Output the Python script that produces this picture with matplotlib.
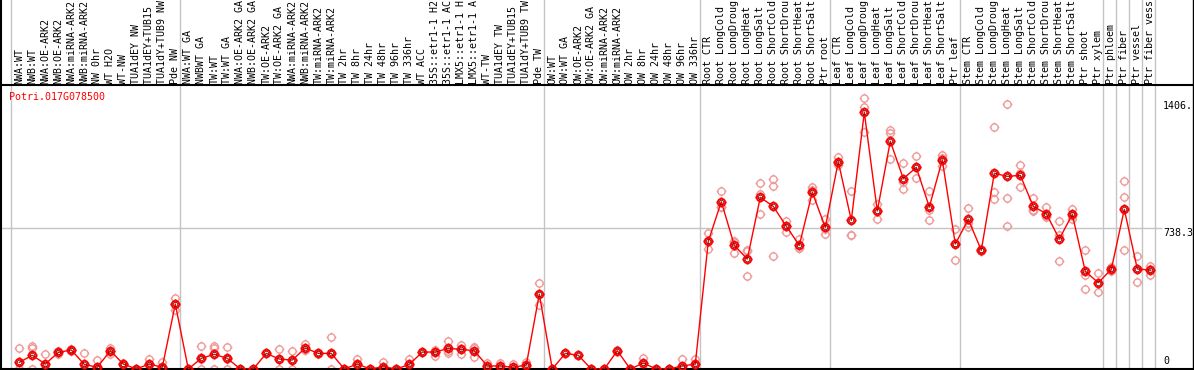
import matplotlib
matplotlib.use('Agg')
import matplotlib.pyplot as plt
from matplotlib.path import Path
from matplotlib.lines import Line2D
import numpy as np

gene = 'Potri.017G078500'

samples = [
    'NWA:WT', 'NWB:WT', 'NWA:OE-ARK2', 'NWB:OE-ARK2', 'NWA:miRNA-ARK2', 'NWB:miRNA-ARK2',
    'NW 0hr', 'WT H2O', 'WT-NW', 'TUA1dEY NW', 'TUA1dEY+TUB15 ', 'TUA1dY+TUB9 NW', 'Pde NW',
    'NWA:WT GA', 'NWBWT GA', 'TW:WT', 'TW:WT GA', 'NWA:OE-ARK2 GA', 'NWB:OE-ARK2 GA',
    'TW:OE-ARK2', 'TW:OE-ARK2 GA', 'NWA:miRNA-ARK2', 'NWB:miRNA-ARK2', 'TW:miRNA-ARK2',
    'TW:miRNA-ARK2', 'TW 2hr', 'TW 8hr', 'TW 24hr', 'TW 48hr', 'TW 96hr', 'TW 336hr',
    'WT ACC', '35S::etr1-1 H2', '35S::etr1-1 AC', 'LMX5::etr1-1 H', 'LMX5::etr1-1 A',
    'WT-TW', 'TUA1dEY TW', 'TUA1dEY+TUB15 ', 'TUA1dY+TUB9 TW', 'Pde TW',
    'OW:WT', 'OW:WT GA', 'OW:OE-ARK2', 'OW:OE-ARK2 GA', 'OW:miRNA-ARK2', 'OW:miRNA-ARK2',
    'OW 2hr', 'OW 8hr', 'OW 24hr', 'OW 48hr', 'OW 96hr', 'OW 336hr',
    'Root CTR', 'Root LongCold', 'Root LongDroug', 'Root LongHeat', 'Root LongSalt',
    'Root ShortCold', 'Root ShortDrou', 'Root ShortHeat', 'Root ShortSalt', 'Ptr root',
    'Leaf CTR', 'Leaf LongCold', 'Leaf LongDroug', 'Leaf LongHeat', 'Leaf LongSalt',
    'Leaf ShortCold', 'Leaf ShortDrou', 'Leaf ShortHeat', 'Leaf ShortSalt', 'Ptr leaf',
    'Stem CTR', 'Stem LongCold', 'Stem LongDroug', 'Stem LongHeat', 'Stem LongSalt',
    'Stem ShortCold', 'Stem ShortDrou', 'Stem ShortHeat', 'Stem ShortSalt',
    'Ptr shoot', 'Ptr xylem', 'Ptr phloem', 'Ptr fiber', 'Ptr vessel', 'Ptr fiber vess',
]

means = [
    35, 72, 26, 87, 100, 24, 9, 96, 26, 0, 26, 9, 341,
    0, 56, 77, 56, 0, 0, 82, 52, 47, 110, 82, 82, 0, 26, 0, 12, 0, 24,
    89, 89, 108, 103, 96, 16, 16, 9, 21, 393,
    0, 82, 72, 0, 0, 96, 0, 31, 0, 0, 16, 26,
    670, 878, 649, 577, 901, 853, 749, 649, 927, 743,
    1088, 780, 1347, 829, 1195, 999, 1058, 850, 1097, 656,
    785, 623, 1027, 1011, 1016, 853, 815, 682, 811,
    512, 453, 523, 838, 525, 519,
]

reps = [
    [108, 0, 0], [121, 108, 0], [77, 0, 0], [80, 87, 94], [96, 100, 104],
    [82, 0, 0], [47, 0, 0], [96, 80, 110], [26, 20, 32], [0, 0, 0],
    [52, 26, 0], [37, 0, 0], [370, 341, 309],
    [0, 0, 0], [119, 0, 50], [121, 110, 0], [117, 0, 50], [0, 0], [0, 0],
    [82], [105, 0, 52], [94, 0, 47], [129, 100, 100], [78, 86], [168, 0, 78],
    [0, 0], [54, 0, 24], [0, 0], [38, 0, 0], [0, 0], [52, 0, 20],
    [89], [70, 95, 100], [147, 95, 82], [124, 80, 105], [110, 65, 113],
    [33, 0, 15], [33, 0, 15], [26, 0, 0], [37, 10, 16], [451, 393, 336],
    [0, 0], [82], [72], [0, 0], [0, 0], [100, 92], [0, 0], [59, 0, 33],
    [0, 0], [0, 0], [52, 0, 0], [51, 0, 24],
    [712, 628, 670], [932, 852, 850], [668, 607, 672], [621, 486, 624],
    [974, 918, 815], [997, 962, 591], [778, 719, 750], [680, 633, 634],
    [953, 887, 941], [785, 708, 736],
    [1114, 1070, 1080], [932, 703, 705], [1420, 1373, 1245], [866, 785, 836],
    [1254, 1236, 1100], [1079, 983, 943], [1116, 1000, 1058], [932, 834, 782],
    [1122, 1065, 1107], [736, 570, 662],
    [843, 747, 766], [630, 618, 621], [1268, 927, 890], [1390, 896, 750],
    [1069, 953, 1026], [896, 829, 834], [850, 796, 803], [775, 703, 565],
    [841, 785, 805], [623, 418, 495], [502, 404, 453], [537, 515, 519],
    [986, 902, 623], [593, 456, 526], [542, 492, 523],
]

# columns after which a vertical separator is drawn (-1 = before the first one)
group_ends = [-1, 12, 40, 52, 62, 72, 83, 84, 85, 86, 87]

mid_value = 738.3
top_label = '1406.'
top_value = 1406

W, H = 1194, 370
fig = plt.figure(figsize=(W / 100, H / 100), dpi=100)

# axes spans the full width; column i sits at pixel 19.3 + 13*i
px_per_unit = 0.19057
ax = fig.add_axes([0, 1 / H, 1, 284 / H])
ax.set_xlim(-19.3 / 13, (W - 19.3) / 13)
ax.set_ylim(0, 284 / px_per_unit)
ax.set_xticks([])
ax.set_yticks([])
for s in ['left', 'right']:
    ax.spines[s].set_visible(False)
ax.spines['top'].set_linewidth(1.5)
ax.spines['bottom'].set_linewidth(1.5)

grey = '#c4c4c4'
mono = 'DejaVu Sans Mono'

# vertical separators run through the label header as well
ax.vlines([g + 0.35 for g in group_ends], 0, 1.31, color=grey, lw=1.0,
          transform=ax.get_xaxis_transform(), clip_on=False, zorder=0)
ax.hlines(mid_value, -19.3 / 13, (1162 - 19.3) / 13, color=grey, lw=1.0, zorder=0)

# marker: circle with four short ticks
circ = Path.unit_circle()
ticks = Path([(0, 1), (0, 1.35), (0, -1), (0, -1.35), (1, 0), (1.35, 0), (-1, 0), (-1.35, 0)],
             [Path.MOVETO, Path.LINETO] * 4)
ring = Path.make_compound_path(circ, ticks)

x = np.arange(len(samples))
for i, r in enumerate(reps):
    ax.plot([i] * len(r), r, linestyle='none', marker=ring, ms=7, mfc='none',
            mec='#ee9a9a', mew=1.0, zorder=2)

ax.plot(x, means, color='red', lw=1.0, zorder=3)
ax.plot(x, means, linestyle='none', marker=ring, ms=7.2, mfc='none',
        mec='red', mew=1.4, zorder=4)
ax.plot(x, means, linestyle='none', marker='o', ms=3.2, mfc='none',
        mec='#600000', mew=0.5, zorder=5)

# column labels in the header, just above the separator
for i, lab in enumerate(samples):
    ax.text(i, 1.0 + 1.5 / 284, lab, transform=ax.get_xaxis_transform(), rotation=90,
            ha='center', va='bottom', fontsize=7.2, family=mono, color='black')

# value labels on the right
xl = (1163 - 19.3) / 13
ax.text(xl, top_value, top_label, ha='left', va='top', fontsize=7.2, family=mono)
ax.text(xl, mid_value, '%.1f' % mid_value, ha='left', va='top', fontsize=7.2, family=mono)
ax.text(xl, 3 / px_per_unit, '0', ha='left', va='bottom', fontsize=7.2, family=mono)

fig.text(9.3 / W, 1 - 92 / H, gene, color='red', ha='left', va='top',
         fontsize=7.2, family=mono)

# outer frame left and right
fig.add_artist(Line2D([1 / W, 1 / W], [0, 1], color='black', lw=1.5))
fig.add_artist(Line2D([1 - 1.5 / W, 1 - 1.5 / W], [0, 1], color='black', lw=1.0))

fig.savefig('out.png', dpi=100)
